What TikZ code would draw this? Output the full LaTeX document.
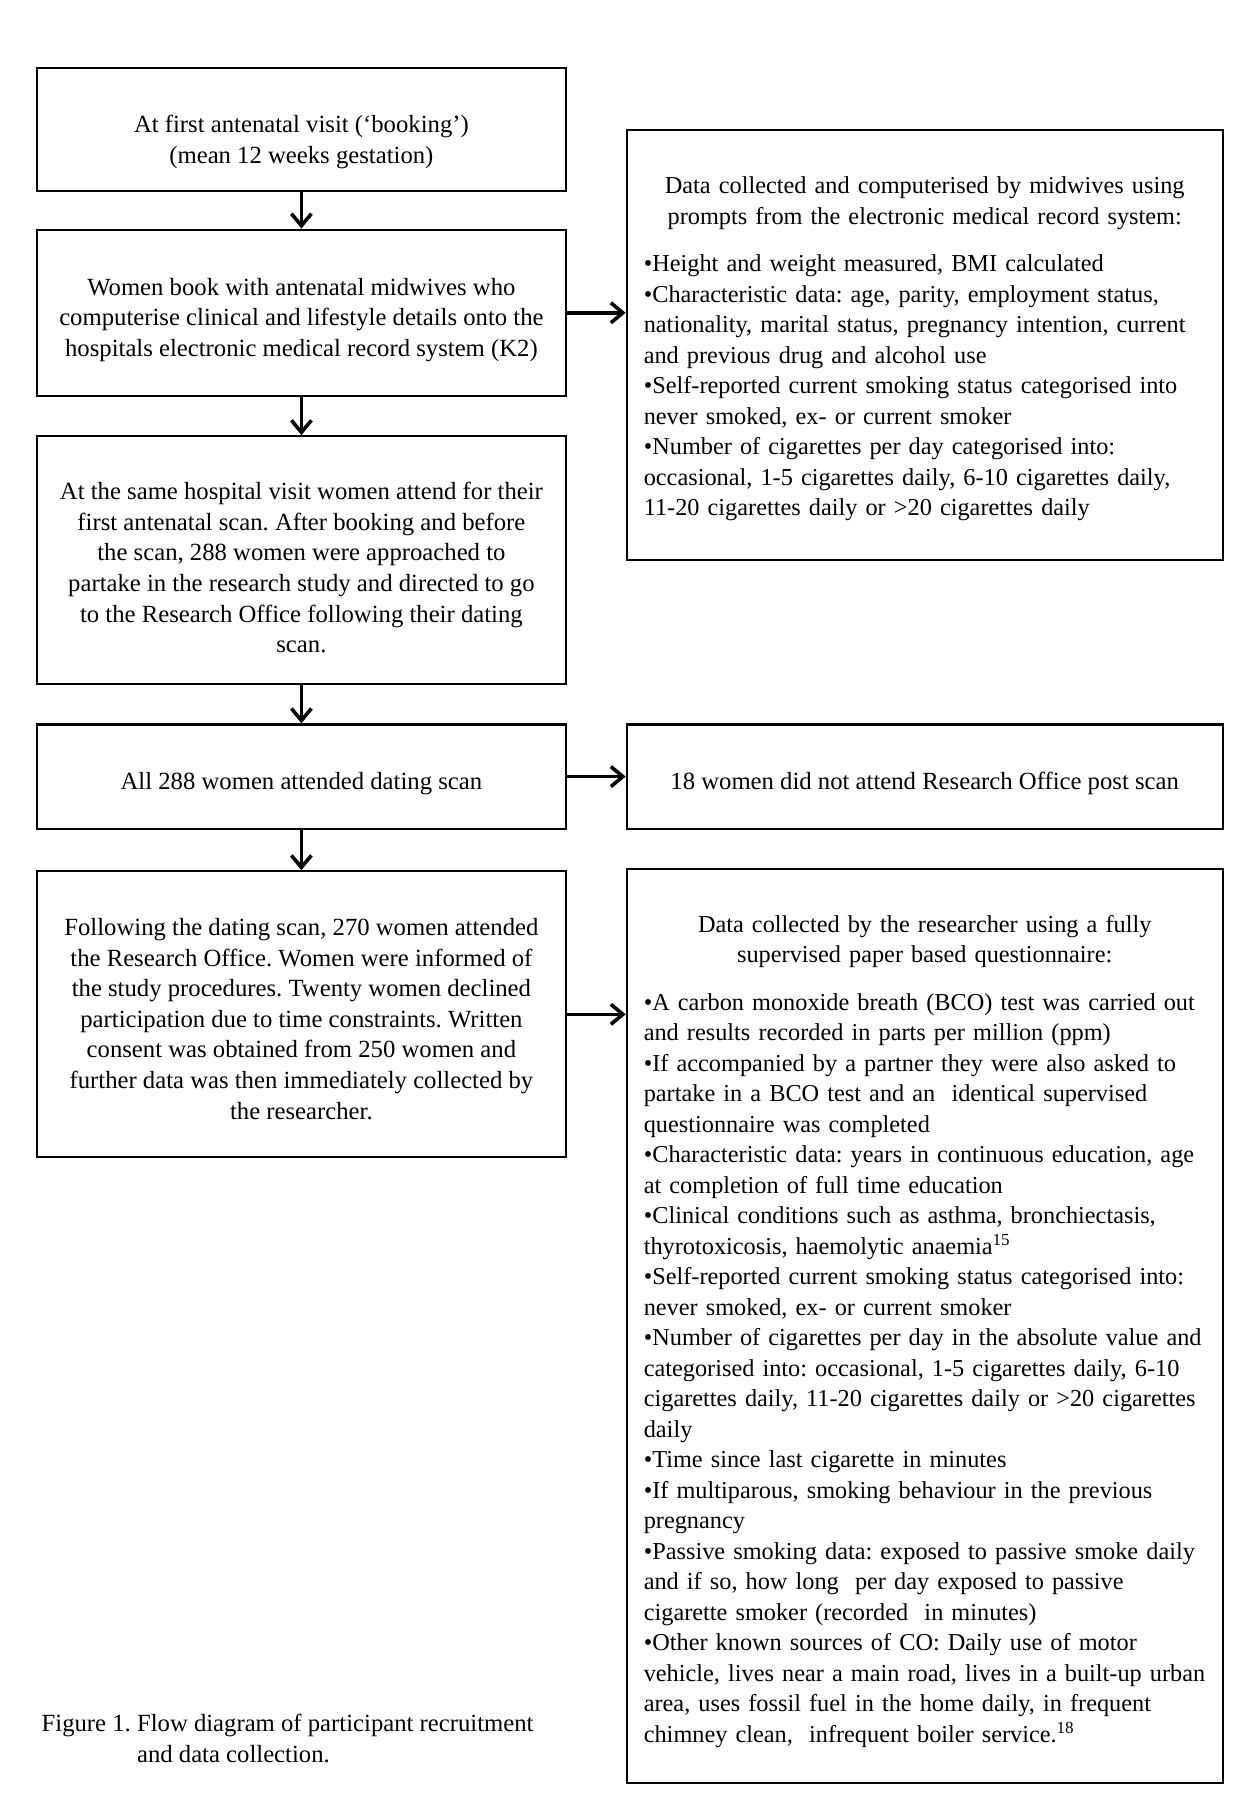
\documentclass[tikz,border=0pt]{standalone}
\usepackage{fontspec}
\setmainfont{Liberation Serif}
\usetikzlibrary{arrows.meta}
\begin{document}
\frenchspacing
\begin{tikzpicture}[x=0.5pt,y=-0.5pt,
  font=\fontsize{12.35}{15.3}\selectfont,
  lbox/.style={draw,line width=1.1pt,inner sep=0pt,minimum width=264.6pt},
  rbox/.style={draw,line width=1.1pt,inner sep=0pt,minimum width=297.9pt},
  ltxt/.style={inner sep=0pt,align=center},
  rtxt/.style={inner sep=0pt,text width=294.4pt,font=\fontsize{12.15}{15.25}\selectfont},
  arr/.style={line width=1.8pt,-{Straight Barb[length=6pt,width=10pt,line width=1.8pt]}}]
\useasboundingbox (0,0) rectangle (1246,1800);
% left column boxes
\node[lbox,minimum height=61.4pt] (b1) at (301.4,129.2) {};
\node[lbox,minimum height=83.2pt] (b2) at (301.4,312.8) {};
\node[lbox,minimum height=124pt] (b3) at (301.4,560.2) {};
\node[lbox,minimum height=52.2pt] (b4) at (301.4,776.6) {};
\node[lbox,minimum height=143pt] (b5) at (301.4,1014.3) {};
% right column boxes
\node[rbox,minimum height=215.2pt] (ra) at (924.7,345) {};
\node[rbox,minimum height=52.2pt] (rb) at (924.7,776.6) {};
\node[rbox,minimum height=456.9pt] (rc) at (924.7,1325.9) {};
% texts
\node[ltxt,yshift=-6.5pt] (t1) at (b1.center) {At first antenatal visit (‘booking’)\\(mean 12 weeks gestation)};
\node[ltxt,yshift=-3.5pt] (t2) at (b2.center) {Women book with antenatal midwives who\\computerise clinical and lifestyle details onto the\\hospitals electronic medical record system (K2)};
\node[ltxt,yshift=-3.7pt] (t3) at (b3.center) {At the same hospital visit women attend for their\\first antenatal scan. After booking and before\\the scan, 288 women were approached to\\partake in the research study and directed to go\\to the Research Office following their dating\\scan.};
\node[ltxt,yshift=-3.5pt] (t4) at (b4.center) {All 288 women attended dating scan};
\node[ltxt,yshift=-2.3pt] (t5) at (b5.center) {Following the dating scan, 270 women attended\\the Research Office. Women were informed of\\the study procedures. Twenty women declined\\participation due to time constraints. Written\\consent was obtained from 250 women and\\further data was then immediately collected by\\the researcher.};
\node[rtxt,yshift=-2pt] (ta) at (ra.center) {{\centering Data collected and computerised by midwives using\\prompts from the electronic medical record system:\par}\vspace{8.5pt}{\raggedright\leftskip=6.75pt •Height and weight measured, BMI calculated\\•Characteristic data: age, parity, employment status,\\nationality, marital status, pregnancy intention, current\\and previous drug and alcohol use\\•Self-reported current smoking status categorised into\\never smoked, ex- or current smoker\\•Number of cigarettes per day categorised into:\\occasional, 1-5 cigarettes daily, 6-10 cigarettes daily,\\11-20 cigarettes daily or >20 cigarettes daily\par}};
\node[ltxt,yshift=-3.5pt] (tb) at (rb.center) {18 women did not attend Research Office post scan};
\node[rtxt,yshift=-2.6pt] (tc) at (rc.center) {{\centering Data collected by the researcher using a fully\\supervised paper based questionnaire:\par}\vspace{8.5pt}{\raggedright\leftskip=6.75pt •A carbon monoxide breath (BCO) test was carried out\\and results recorded in parts per million (ppm)\\•If accompanied by a partner they were also asked to\\partake in a BCO test and an\ \ identical supervised\\questionnaire was completed\\•Characteristic data: years in continuous education, age\\at completion of full time education\\•Clinical conditions such as asthma, bronchiectasis,\\thyrotoxicosis, haemolytic anaemia\textsuperscript{15}\\•Self-reported current smoking status categorised into:\\never smoked, ex- or current smoker\\•Number of cigarettes per day in the absolute value and\\categorised into: occasional, 1-5 cigarettes daily, 6-10\\cigarettes daily, 11-20 cigarettes daily or >20 cigarettes\\daily\\•Time since last cigarette in minutes\\•If multiparous, smoking behaviour in the previous\\pregnancy\\•Passive smoking data: exposed to passive smoke daily\\and if so, how long\ \ per day exposed to passive\\cigarette smoker (recorded\ \ in minutes)\\•Other known sources of CO: Daily use of motor\\vehicle, lives near a main road, lives in a built-up urban\\area, uses fossil fuel in the home daily, in frequent\\chimney clean,\ \ infrequent boiler service.\textsuperscript{18}\par}};
\node[anchor=west,align=left,inner sep=0pt] (cap) at (41.3,1741) {Figure 1. Flow diagram of participant recruitment\\\phantom{Figure 1. }and data collection.};
% connectors
\draw[arr] (b1) -- (b2);
\draw[arr] (b2) -- (b3);
\draw[arr] (b3) -- (b4);
\draw[arr] (b4) -- (b5);
\draw[arr] (b2.east) -- (b2.east -| ra.west);
\draw[arr] (b4.east) -- (rb.west);
\draw[arr] (b5.east) -- (b5.east -| rc.west);
\end{tikzpicture}
\end{document}
